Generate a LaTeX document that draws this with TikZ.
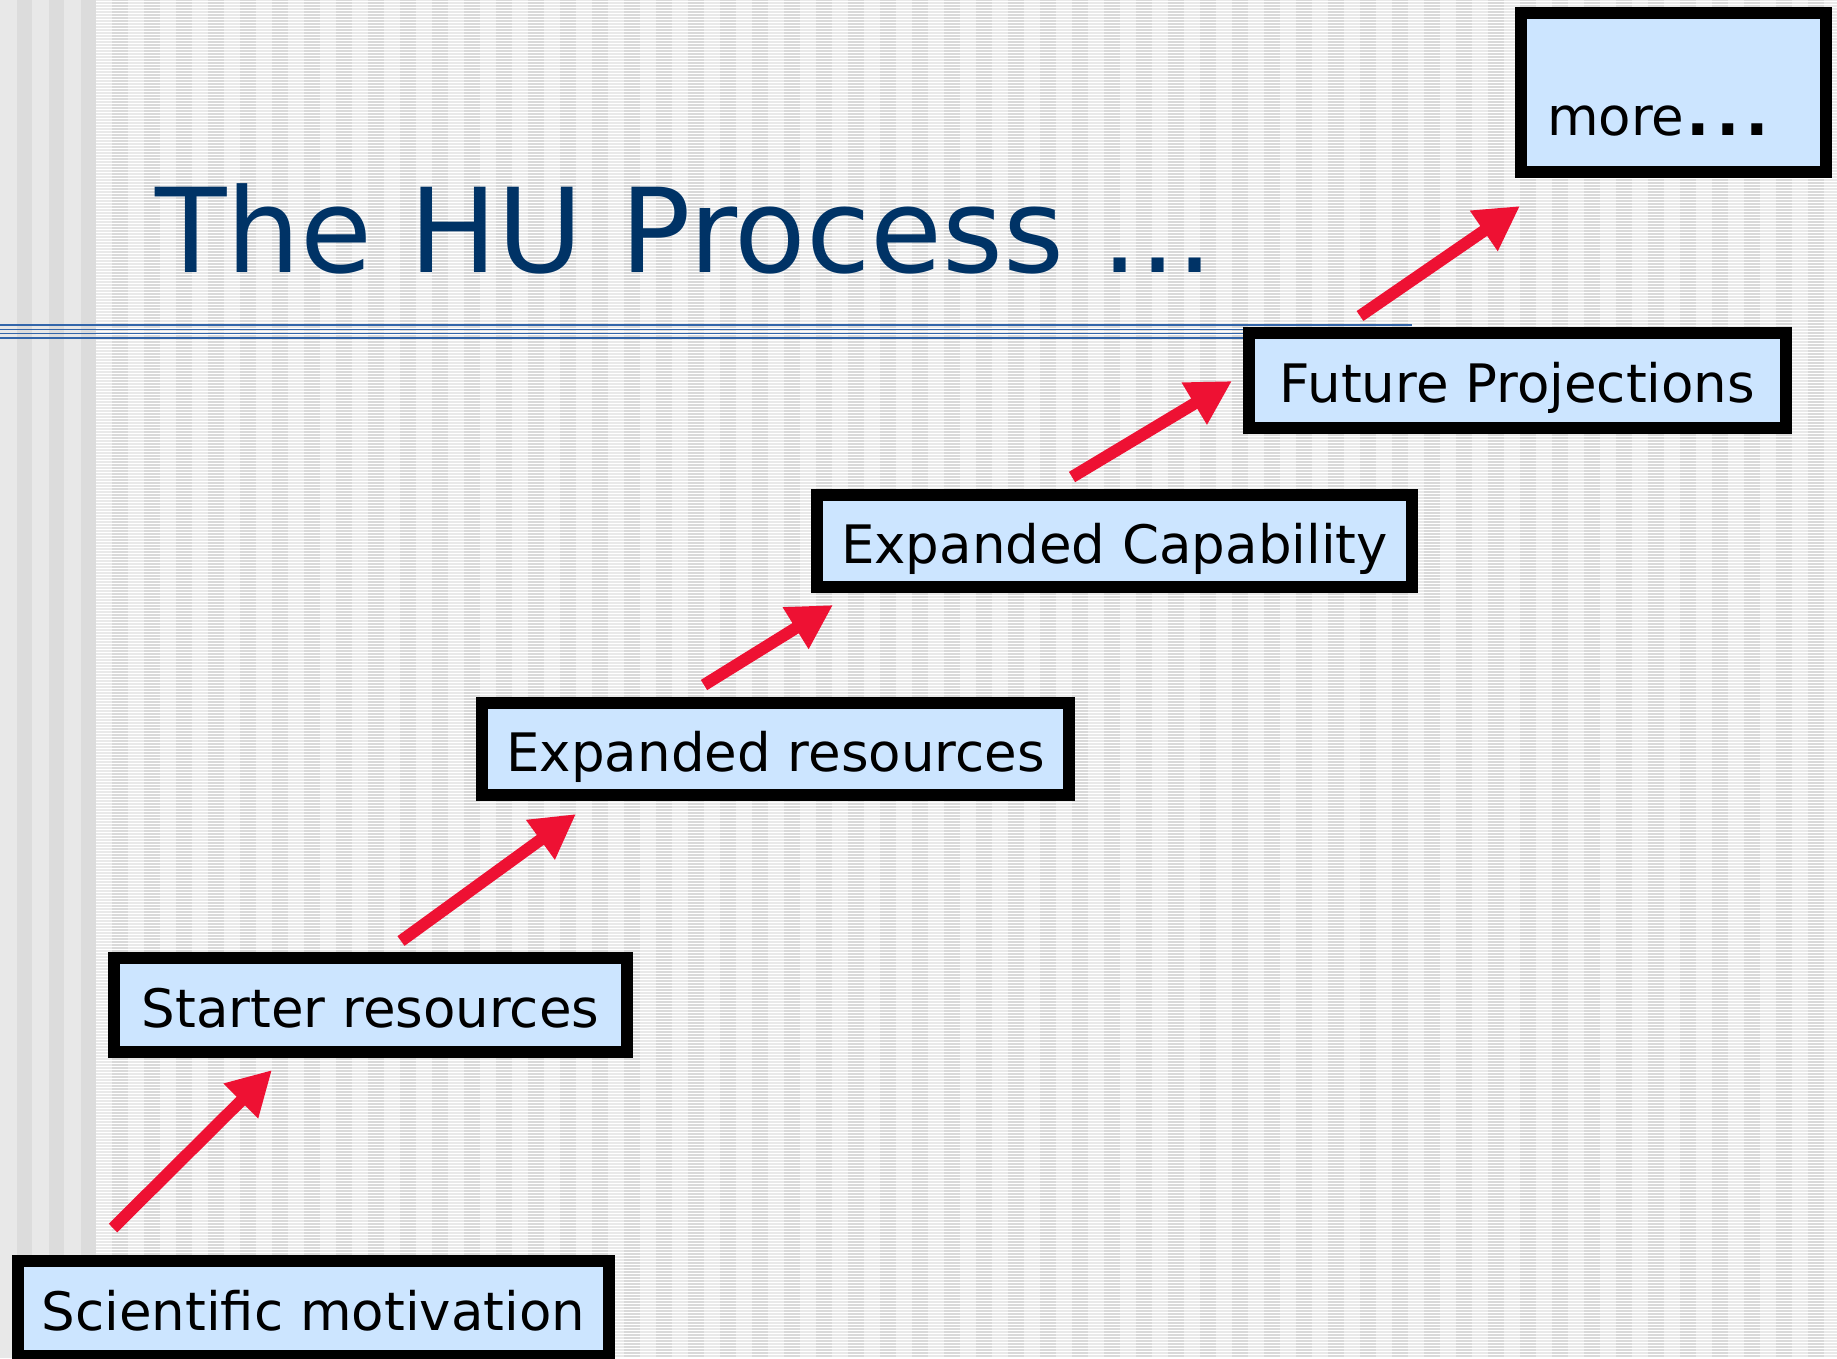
\documentclass[tikz,border=0pt]{standalone}
\usepackage{fontspec}
\setmainfont{DejaVu Sans}
\usetikzlibrary{arrows.meta}
\definecolor{boxfill}{RGB}{204,229,255}
\definecolor{titleblue}{RGB}{0,51,102}
\definecolor{rulblue}{RGB}{51,102,170}
\definecolor{arrred}{RGB}{238,17,51}
\definecolor{bgbase}{RGB}{233,233,233}
\definecolor{bgstripe}{RGB}{217,217,217}
\definecolor{lstripeA}{RGB}{232,232,232}
\definecolor{lstripeB}{RGB}{220,220,220}
\tikzset{
  stepbox/.style={draw=black, line width=12pt, fill=boxfill, inner sep=0pt,
    text height=44pt, text depth=0pt, font=\fontsize{53}{60}\selectfont},
  redarrow/.style={draw=arrred, line width=12pt, line cap=butt,
    -{Triangle[length=44pt,width=46pt]}},
}
\begin{document}
\begin{tikzpicture}[x=1pt,y=-1pt]
\useasboundingbox (0,0) rectangle (1837,1358);
% background
\fill[bgbase] (0,0) rectangle (1837,1358);
\foreach \k in {0,1,2} {
  \fill[lstripeA] ({32*\k},0) rectangle ({32*\k+17},1358);
  \fill[lstripeB] ({32*\k+17},0) rectangle ({32*\k+32},1358);
}
\foreach \k in {0,...,54} {
  \fill[bgstripe] ({112+32*\k},0) rectangle ({128+32*\k},1358);
}
\foreach \i in {0,...,452} {
  \draw[white, line width=1.1pt] (96,{3*\i+1.5}) -- (1837,{3*\i+1.5});
}
% title rule
\foreach \yy in {325,329.3,333.6,337.9} {
  \draw[rulblue, line width=1.3pt] (0,\yy) -- (1412,\yy);
}
% title
\node[anchor=base west, inner sep=0pt, text=titleblue, font=\fontsize{117}{128}\selectfont]
  (title) at (155,272) {The HU Process ...};
% boxes
\node[stepbox, minimum width=591pt, minimum height=95pt] (sci) at (313.5,1308.5) {Scientific motivation};
\node[stepbox, minimum width=513pt, minimum height=94pt] (start) at (370.5,1005) {Starter resources};
\node[stepbox, minimum width=587pt, minimum height=92pt] (expres) at (775.5,749) {Expanded resources};
\node[stepbox, minimum width=595pt, minimum height=92pt] (expcap) at (1114.5,541) {Expanded Capability};
\node[stepbox, minimum width=537pt, minimum height=95pt] (future) at (1517.5,380.5) {Future Projections};
\node[stepbox, minimum width=305pt, minimum height=159pt] (more) at (1673.5,92.5) {};
\node[anchor=base west, inner sep=0pt, font=\fontsize{53}{60}\selectfont]
  (moretxt) at (1547,135) {more{\fontsize{62}{70}\selectfont\bfseries\kern2pt.\kern6pt.\kern6pt.}};
% arrow ends
\coordinate (a1s) at (113,1228);  \coordinate (a1e) at (272,1070);
\coordinate (a2s) at (401,941);   \coordinate (a2e) at (576,814);
\coordinate (a3s) at (704,685);   \coordinate (a3e) at (833,605);
\coordinate (a4s) at (1072,477);  \coordinate (a4e) at (1232,381);
\coordinate (a5s) at (1360,316);  \coordinate (a5e) at (1520,206);
\draw[redarrow] (a1s) -- (a1e);
\draw[redarrow] (a2s) -- (a2e);
\draw[redarrow] (a3s) -- (a3e);
\draw[redarrow] (a4s) -- (a4e);
\draw[redarrow] (a5s) -- (a5e);
\end{tikzpicture}
\end{document}
